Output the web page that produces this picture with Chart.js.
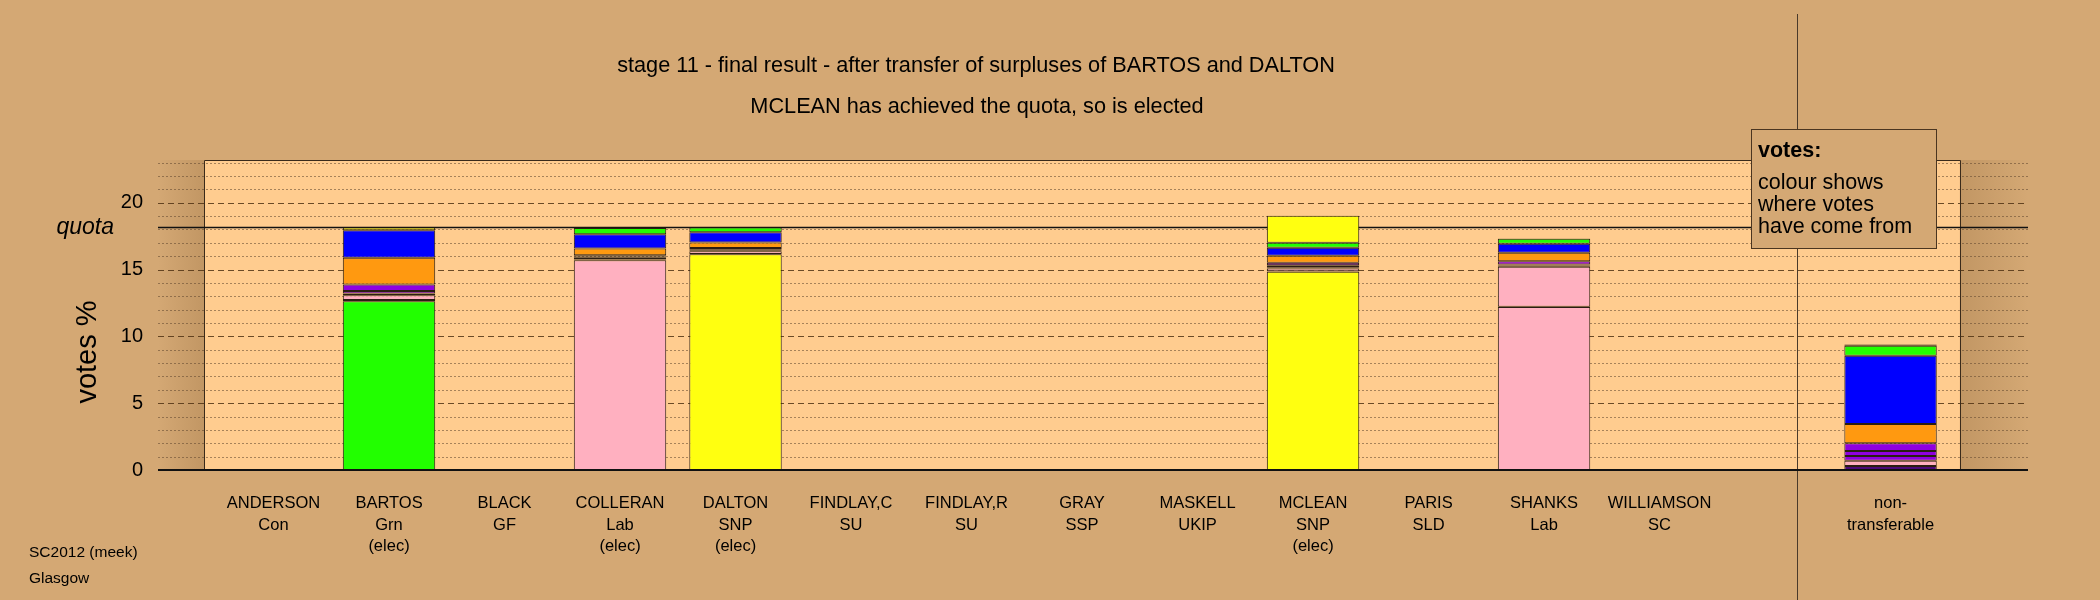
<!DOCTYPE html>
<html>
<head>
<meta charset="utf-8">
<title>stage 11 - final result</title>
<script src="https://cdn.jsdelivr.net/npm/chart.js@4.4.1/dist/chart.umd.min.js"></script>
<style>
    html, body { margin: 0; padding: 0; background: #d4a874; }
    #stvChart { display: block; }
</style>
</head>
<body>
<canvas id="stvChart" width="2100" height="600"></canvas>
<script>
(function () {
    "use strict";

    // slots along the x axis: 13 candidates, one gap, non-transferable
    const candidates = ["ANDERSON", "BARTOS", "BLACK", "COLLERAN", "DALTON", "FINDLAY,C", "FINDLAY,R",
        "GRAY", "MASKELL", "MCLEAN", "PARIS", "SHANKS", "WILLIAMSON", "", "non-"];
    const parties = ["Con", "Grn", "GF", "Lab", "SNP", "SU", "SU", "SSP", "UKIP", "SNP", "SLD", "Lab", "SC", "", "transferable"];
    const status = ["", "(elec)", "", "(elec)", "(elec)", "", "", "", "", "(elec)", "", "", "", "", ""];
    const yTicks = [0, 5, 10, 15, 20];
    const quota = 18.15;

    // votes % by where they came from, stacked bottom to top
    const firstPrefs = [0, 12.62, 0, 15.70, 16.15, 0, 0, 0, 0, 14.83, 0, 12.19, 0, 0, 0];
    const transfer1 = [0, 0.10, 0, 0.06, 0.02, 0, 0, 0, 0, 0.05, 0, 0.03, 0, 0, 0.30];
    const transfer2 = [0, 0.35, 0, 0, 0.20, 0, 0, 0, 0, 0.20, 0, 2.99, 0, 0, 0.40];
    const transfer3 = [0, 0.14, 0, 0.12, 0.08, 0, 0, 0, 0, 0.10, 0, 0.10, 0, 0, 0.35];
    const transfer4 = [0, 0.18, 0, 0.10, 0.08, 0, 0, 0, 0, 0.15, 0, 0.07, 0, 0, 0.37];
    const transfer5 = [0, 0.50, 0, 0.10, 0.09, 0, 0, 0, 0, 0.18, 0, 0.25, 0, 0, 0.58];
    const transfer6 = [0, 1.99, 0, 0.50, 0.40, 0, 0, 0, 0, 0.52, 0, 0.63, 0, 0, 1.44];
    const transfer7 = [0, 2.07, 0, 1.07, 0.77, 0, 0, 0, 0, 0.60, 0, 0.67, 0, 0, 5.11];
    const bartosSurplus = [0, 0, 0, 0.47, 0.36, 0, 0, 0, 0, 0.37, 0, 0.38, 0, 0, 0.75];
    const daltonSurplus = [0, 0.20, 0, 0.03, 0, 0, 0, 0, 0, 2.02, 0, 0.02, 0, 0, 0.10];

    const ownColours = ["#0000ff", "#22ff00", "#8f00e0", "#ffb0c0", "#ffff10", "#8f00e0", "#8f00e0",
        "#ff9910", "#8f00e0", "#ffff10", "#ff9910", "#ffb0c0", "#8f00e0", "#000000", "#000000"];

    const series = [firstPrefs, transfer1, transfer2, transfer3, transfer4, transfer5,
        transfer6, transfer7, bartosSurplus, daltonSurplus];
    const seriesLabels = ["first preferences", "transfer 1", "transfer 2", "transfer 3", "transfer 4",
        "transfer 5", "transfer 6", "transfer 7", "surplus of BARTOS", "surplus of DALTON"];
    const seriesColours = [ownColours, "#4b0a78", "#ffb0c0", "#8f00e0", "#8f00e0", "#8f00e0",
        "#ff9910", "#0000ff", "#22ff00", "#ffff10"];

    const bgColour = "#d4a874";
    const panelColour = "#ffcc8f";
    const font = "'Liberation Sans', Arial, sans-serif";
    const panelRange = [-0.6, 14.6];
    const dividerAt = 13.19;

    const slots = candidates.map((c, i) => i);

    /**
     * @description background, panel, grid, quota line and notes
     */
    const stvBackdrop = {
        id: "stvBackdrop",
        beforeDraw(chart) {
            const ctx = chart.ctx;
            const area = chart.chartArea;
            const x = chart.scales.x;
            const pl = x.getPixelForValue(panelRange[0]);
            const pr = x.getPixelForValue(panelRange[1]);
            ctx.save();
            ctx.fillStyle = bgColour;
            ctx.fillRect(0, 0, chart.width, chart.height);
            let g = ctx.createLinearGradient(area.left, 0, pl, 0);
            g.addColorStop(0, "rgba(110,70,25,0)");
            g.addColorStop(1, "rgba(110,70,25,0.18)");
            ctx.fillStyle = g;
            ctx.fillRect(area.left, area.top, pl - area.left, area.bottom - area.top);
            g = ctx.createLinearGradient(pr, 0, area.right, 0);
            g.addColorStop(0, "rgba(110,70,25,0.18)");
            g.addColorStop(1, "rgba(110,70,25,0)");
            ctx.fillStyle = g;
            ctx.fillRect(pr, area.top, area.right - pr, area.bottom - area.top);
            ctx.fillStyle = panelColour;
            ctx.fillRect(pl, area.top, pr - pl, area.bottom - area.top);
            ctx.restore();
        },
        beforeDatasetsDraw(chart) {
            const ctx = chart.ctx;
            const area = chart.chartArea;
            const x = chart.scales.x;
            const y = chart.scales.y;
            const pl = x.getPixelForValue(panelRange[0]);
            const pr = x.getPixelForValue(panelRange[1]);
            ctx.save();
            ctx.lineWidth = 1;
            for (let v = 1; v <= Math.floor(y.max); v++) {
                const py = Math.round(y.getPixelForValue(v)) + 0.5;
                if (v % 5 === 0) {
                    ctx.strokeStyle = "rgba(80,50,20,0.85)";
                    ctx.setLineDash([6, 4]);
                } else {
                    ctx.strokeStyle = "rgba(95,70,45,0.55)";
                    ctx.setLineDash([2, 2]);
                }
                ctx.beginPath();
                ctx.moveTo(area.left, py);
                ctx.lineTo(area.right, py);
                ctx.stroke();
            }
            ctx.setLineDash([]);
            // panel border
            ctx.strokeStyle = "#3a2a1a";
            ctx.beginPath();
            ctx.moveTo(Math.round(pl) + 0.5, area.bottom);
            ctx.lineTo(Math.round(pl) + 0.5, area.top + 0.5);
            ctx.lineTo(Math.round(pr) + 0.5, area.top + 0.5);
            ctx.lineTo(Math.round(pr) + 0.5, area.bottom);
            ctx.stroke();
            // divider before non-transferable
            const dx = Math.round(x.getPixelForValue(dividerAt)) + 0.5;
            ctx.strokeStyle = "#4a3a2a";
            ctx.beginPath();
            ctx.moveTo(dx, 14);
            ctx.lineTo(dx, chart.height);
            ctx.stroke();
            // quota
            const qy = Math.round(y.getPixelForValue(quota)) + 0.5;
            ctx.strokeStyle = "#111";
            ctx.lineWidth = 1.5;
            ctx.beginPath();
            ctx.moveTo(area.left, qy);
            ctx.lineTo(area.right, qy);
            ctx.stroke();
            ctx.restore();
        },
        afterDatasetsDraw(chart) {
            const ctx = chart.ctx;
            const area = chart.chartArea;
            const y = chart.scales.y;
            ctx.save();
            ctx.strokeStyle = "#111";
            ctx.lineWidth = 2;
            ctx.beginPath();
            ctx.moveTo(area.left, area.bottom);
            ctx.lineTo(area.right, area.bottom);
            ctx.stroke();

            ctx.fillStyle = "#000";
            ctx.textAlign = "center";
            ctx.textBaseline = "alphabetic";
            ctx.font = "21.7px " + font;
            ctx.fillText("stage 11 - final result - after transfer of surpluses of BARTOS and DALTON", 976, 72);
            ctx.fillText("MCLEAN has achieved the quota, so is elected", 977, 113);

            ctx.textAlign = "right";
            ctx.textBaseline = "middle";
            ctx.font = "italic 23px " + font;
            ctx.fillText("quota", 114, y.getPixelForValue(quota));

            ctx.save();
            ctx.translate(88, 352);
            ctx.rotate(-Math.PI / 2);
            ctx.textAlign = "center";
            ctx.font = "29px " + font;
            ctx.fillText("votes %", 0, 0);
            ctx.restore();

            ctx.textAlign = "left";
            ctx.textBaseline = "alphabetic";
            ctx.font = "15.5px " + font;
            ctx.fillText("SC2012 (meek)", 29, 557);
            ctx.fillText("Glasgow", 29, 583);

            // note box
            ctx.fillStyle = bgColour;
            ctx.fillRect(1751, 129, 185, 119);
            ctx.strokeStyle = "#4a3520";
            ctx.lineWidth = 1;
            ctx.strokeRect(1751.5, 129.5, 185, 119);
            ctx.fillStyle = "#000";
            ctx.font = "bold 21.5px " + font;
            ctx.fillText("votes:", 1758, 157);
            ctx.font = "21.5px " + font;
            ctx.fillText("colour shows", 1758, 189);
            ctx.fillText("where votes", 1758, 211);
            ctx.fillText("have come from", 1758, 233);
            ctx.restore();
        }
    };

    const datasets = series.map(function (values, k) {
        return {
            label: seriesLabels[k],
            data: values,
            backgroundColor: seriesColours[k],
            borderColor: "#2a1d12",
            borderWidth: (c) => (c.raw ? 1 : 0),
            borderSkipped: false,
            categoryPercentage: 1,
            barPercentage: 0.8,
        };
    });

    new Chart(document.getElementById("stvChart"), {
        type: "bar",
        data: {
            labels: slots,
            datasets: datasets,
        },
        options: {
            responsive: false,
            animation: false,
            events: [],
            layout: {
                padding: { top: 160, right: 72, left: 0, bottom: 0 },
            },
            plugins: {
                legend: { display: false },
                tooltip: { enabled: false },
            },
            scales: {
                x: {
                    type: "linear",
                    min: -1,
                    max: 15.19,
                    bounds: "data",
                    stacked: true,
                    offset: false,
                    grid: { display: false, drawTicks: false },
                    border: { display: false },
                    afterBuildTicks: (s) => {
                        s.ticks = slots.map((v) => ({ value: v }));
                    },
                    afterFit: (s) => {
                        s.height = 130;
                    },
                    ticks: {
                        autoSkip: false,
                        maxRotation: 0,
                        padding: 23,
                        color: "#000",
                        font: { family: font, size: 16.5, lineHeight: 1.3 },
                        callback: (v) => [candidates[v], parties[v], status[v]].filter((t) => t),
                    },
                },
                y: {
                    min: 0,
                    max: 23.2,
                    bounds: "data",
                    stacked: true,
                    grid: { display: false, drawTicks: false },
                    border: { display: false },
                    afterBuildTicks: (s) => {
                        s.ticks = yTicks.map((v) => ({ value: v }));
                    },
                    afterFit: (s) => {
                        s.width = 158;
                    },
                    ticks: {
                        padding: 15,
                        color: "#000",
                        font: { family: font, size: 20 },
                    },
                },
            },
        },
        plugins: [stvBackdrop],
    });
})();
</script>
</body>
</html>
